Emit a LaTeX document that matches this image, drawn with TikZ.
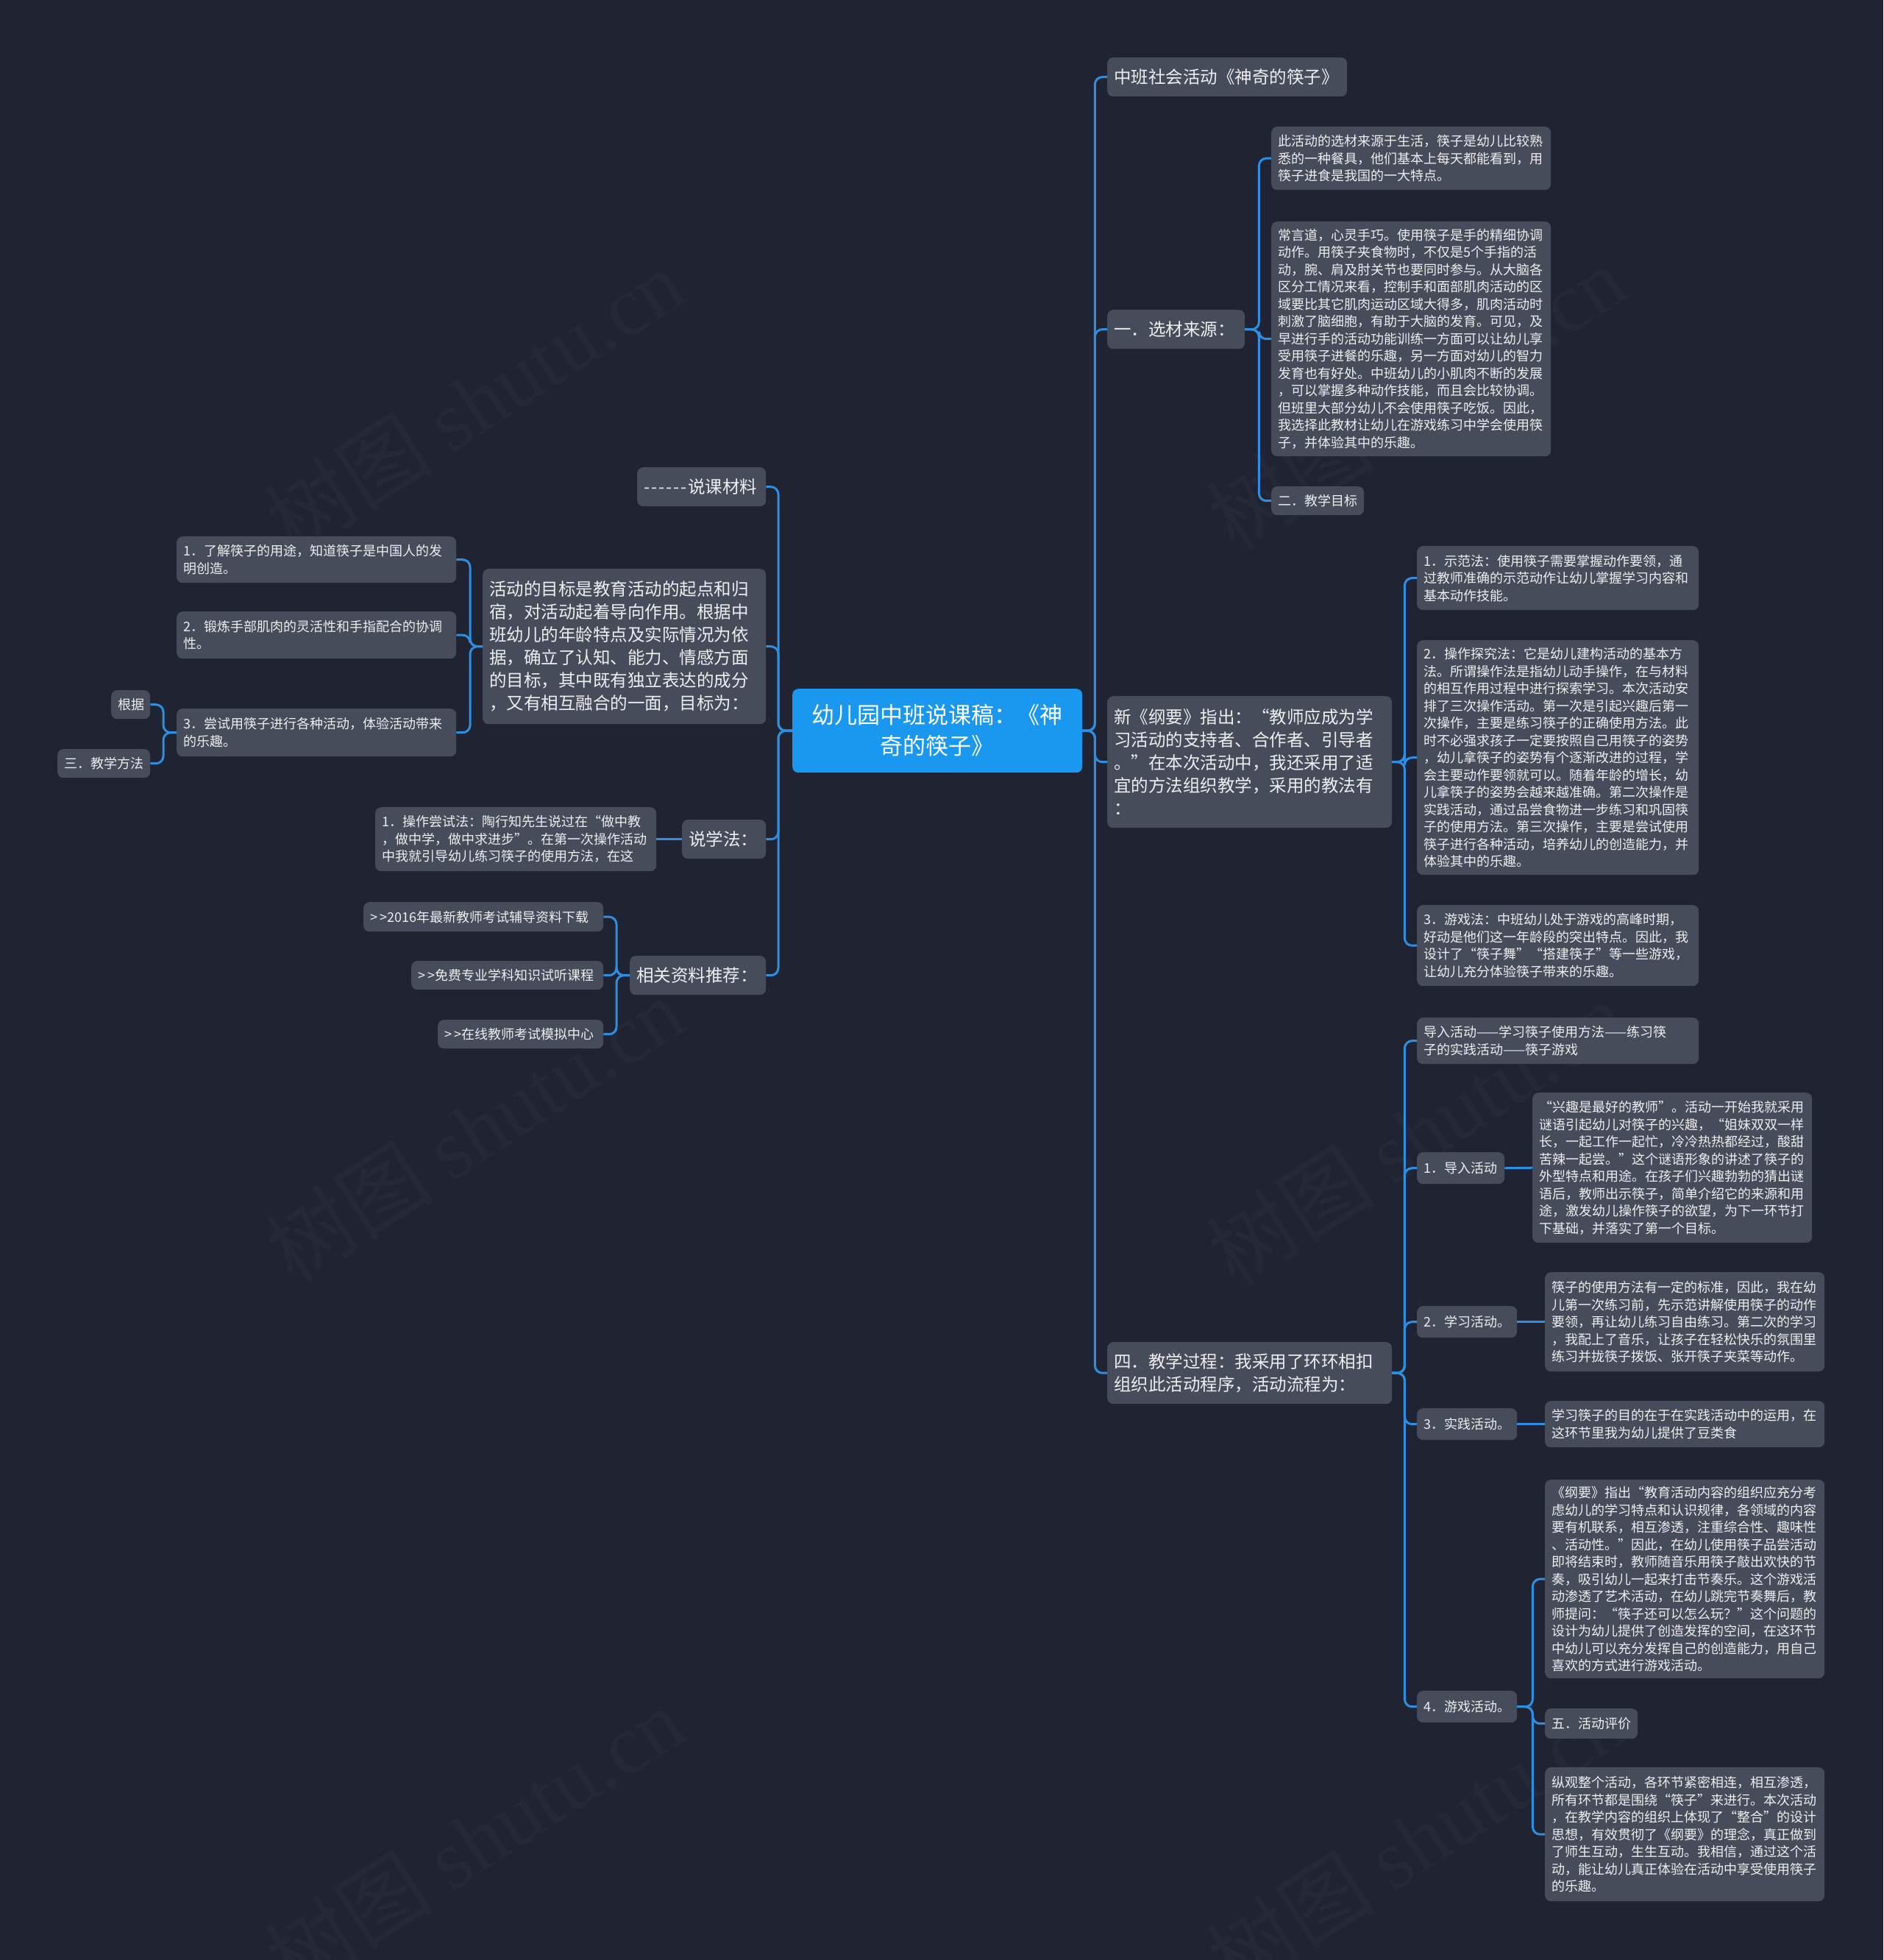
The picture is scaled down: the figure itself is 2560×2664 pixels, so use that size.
\documentclass[tikz,border=0pt]{standalone}
\usepackage{fontspec}
\newfontfamily\cjk{Noto Sans CJK SC}
\newfontfamily\wmserif{Liberation Serif}
\definecolor{bgc}{HTML}{202331}
\definecolor{nodefill}{HTML}{474C5B}
\definecolor{rootc}{HTML}{1A98F0}
\definecolor{linec}{HTML}{2C8FE2}
\definecolor{txt}{HTML}{EEEEF0}
\definecolor{wmc}{HTML}{252937}
\tikzset{
  base/.style={fill=nodefill, rounded corners=8pt, anchor=north west, inner xsep=9pt, inner ysep=0pt, text=txt, align=left},
  sm/.style={base, font=\cjk\fontsize{18}{23.5}\selectfont},
  md/.style={base, font=\cjk\fontsize{23.5}{31}\selectfont},
  rootbox/.style={base, fill=rootc, align=center, text=white, font=\cjk\fontsize{31}{42}\selectfont},
  conn/.style={draw=linec, line width=3pt, rounded corners=10pt},
  wm/.style={text=wmc, rotate=33, font=\cjk\fontsize{115}{120}\selectfont}
}
\newcommand{\wmtext}{树图 {\wmserif shutu.cn}}
\begin{document}
\begin{tikzpicture}[x=1pt,y=-1pt]
\useasboundingbox (0,0) rectangle (2560,2664);
\fill[bgc] (0,0) rectangle (2560,2664);
% watermarks
\node[wm] (w1) at (645,545) {\wmtext};
\node[wm] (w2) at (1925,540) {\wmtext};
\node[wm] (w3) at (645,1535) {\wmtext};
\node[wm] (w4) at (1925,1540) {\wmtext};
\node[wm] (w5) at (645,2500) {\wmtext};
\node[wm] (w6) at (1925,2500) {\wmtext};

% root
\node[rootbox, text width=376pt, minimum height=114pt] (root) at (1077,936) {幼儿园中班说课稿：《神\\奇的筷子》};

% right level 1
\node[md, text width=308pt, minimum height=53pt] (n1) at (1505,78) {中班社会活动《神奇的筷子》};
\node[md, text width=169pt, minimum height=53pt] (n2) at (1505,421) {一．选材来源：};
\node[md, text width=369pt, minimum height=179pt] (n3) at (1505,946) {新《纲要》指出：“教师应成为学\\习活动的支持者、合作者、引导者\\。”在本次活动中，我还采用了适\\宜的方法组织教学，采用的教法有\\：};
\node[md, text width=369pt, minimum height=84pt] (n4) at (1505,1824) {四．教学过程：我采用了环环相扣\\组织此活动程序，活动流程为：};

% n2 children
\node[sm, text width=362pt, minimum height=86pt] (a1) at (1728,172) {此活动的选材来源于生活，筷子是幼儿比较熟\\悉的一种餐具，他们基本上每天都能看到，用\\筷子进食是我国的一大特点。};
\node[sm, text width=362pt, minimum height=319pt] (a2) at (1728,301) {常言道，心灵手巧。使用筷子是手的精细协调\\动作。用筷子夹食物时，不仅是5个手指的活\\动，腕、肩及肘关节也要同时参与。从大脑各\\区分工情况来看，控制手和面部肌肉活动的区\\域要比其它肌肉运动区域大得多，肌肉活动时\\刺激了脑细胞，有助于大脑的发育。可见，及\\早进行手的活动功能训练一方面可以让幼儿享\\受用筷子进餐的乐趣，另一方面对幼儿的智力\\发育也有好处。中班幼儿的小肌肉不断的发展\\，可以掌握多种动作技能，而且会比较协调。\\但班里大部分幼儿不会使用筷子吃饭。因此，\\我选择此教材让幼儿在游戏练习中学会使用筷\\子，并体验其中的乐趣。};
\node[sm, text width=108pt, minimum height=39pt] (a3) at (1728,661) {二．教学目标};

% n3 children
\node[sm, text width=365pt, minimum height=87pt] (b1) at (1926,742) {1．示范法：使用筷子需要掌握动作要领，通\\过教师准确的示范动作让幼儿掌握学习内容和\\基本动作技能。};
\node[sm, text width=365pt, minimum height=319pt] (b2) at (1926,870) {2．操作探究法：它是幼儿建构活动的基本方\\法。所谓操作法是指幼儿动手操作，在与材料\\的相互作用过程中进行探索学习。本次活动安\\排了三次操作活动。第一次是引起兴趣后第一\\次操作，主要是练习筷子的正确使用方法。此\\时不必强求孩子一定要按照自己用筷子的姿势\\，幼儿拿筷子的姿势有个逐渐改进的过程，学\\会主要动作要领就可以。随着年龄的增长，幼\\儿拿筷子的姿势会越来越准确。第二次操作是\\实践活动，通过品尝食物进一步练习和巩固筷\\子的使用方法。第三次操作，主要是尝试使用\\筷子进行各种活动，培养幼儿的创造能力，并\\体验其中的乐趣。};
\node[sm, text width=365pt, minimum height=110pt] (b3) at (1926,1230) {3．游戏法：中班幼儿处于游戏的高峰时期，\\好动是他们这一年龄段的突出特点。因此，我\\设计了“筷子舞”“搭建筷子”等一些游戏，\\让幼儿充分体验筷子带来的乐趣。};

% n4 children
\node[sm, text width=365pt, minimum height=63pt] (c0) at (1926,1383) {导入活动——学习筷子使用方法——练习筷\\子的实践活动——筷子游戏};
\node[sm, text width=101pt, minimum height=43pt] (c1) at (1926,1566) {1．导入活动};
\node[sm, text width=118pt, minimum height=43pt] (c2) at (1926,1775) {2．学习活动。};
\node[sm, text width=118pt, minimum height=43pt] (c3) at (1926,1914) {3．实践活动。};
\node[sm, text width=118pt, minimum height=43pt] (c4) at (1926,2298) {4．游戏活动。};

\node[sm, text width=362pt, minimum height=204pt] (c1a) at (2083,1485) {“兴趣是最好的教师”。活动一开始我就采用\\谜语引起幼儿对筷子的兴趣，“姐妹双双一样\\长，一起工作一起忙，冷冷热热都经过，酸甜\\苦辣一起尝。”这个谜语形象的讲述了筷子的\\外型特点和用途。在孩子们兴趣勃勃的猜出谜\\语后，教师出示筷子，简单介绍它的来源和用\\途，激发幼儿操作筷子的欲望，为下一环节打\\下基础，并落实了第一个目标。};
\node[sm, text width=362pt, minimum height=135pt] (c2a) at (2100,1729) {筷子的使用方法有一定的标准，因此，我在幼\\儿第一次练习前，先示范讲解使用筷子的动作\\要领，再让幼儿练习自由练习。第二次的学习\\，我配上了音乐，让孩子在轻松快乐的氛围里\\练习并拢筷子拨饭、张开筷子夹菜等动作。};
\node[sm, text width=362pt, minimum height=63pt] (c3a) at (2100,1904) {学习筷子的目的在于在实践活动中的运用，在\\这环节里我为幼儿提供了豆类食};
\node[sm, text width=362pt, minimum height=270pt] (c4a) at (2100,2011) {《纲要》指出“教育活动内容的组织应充分考\\虑幼儿的学习特点和认识规律，各领域的内容\\要有机联系，相互渗透，注重综合性、趣味性\\、活动性。”因此，在幼儿使用筷子品尝活动\\即将结束时，教师随音乐用筷子敲出欢快的节\\奏，吸引幼儿一起来打击节奏乐。这个游戏活\\动渗透了艺术活动，在幼儿跳完节奏舞后，教\\师提问：“筷子还可以怎么玩？”这个问题的\\设计为幼儿提供了创造发挥的空间，在这环节\\中幼儿可以充分发挥自己的创造能力，用自己\\喜欢的方式进行游戏活动。};
\node[sm, text width=108pt, minimum height=41pt] (c4b) at (2100,2322) {五．活动评价};
\node[sm, text width=362pt, minimum height=182pt] (c4c) at (2100,2402) {纵观整个活动，各环节紧密相连，相互渗透，\\所有环节都是围绕“筷子”来进行。本次活动\\，在教学内容的组织上体现了“整合”的设计\\思想，有效贯彻了《纲要》的理念，真正做到\\了师生互动，生生互动。我相信，通过这个活\\动，能让幼儿真正体验在活动中享受使用筷子\\的乐趣。};

% left level 1
\node[md, text width=157pt, minimum height=53pt] (L1) at (866,635) {-\kern2pt-\kern2pt-\kern2pt-\kern2pt-\kern2pt-\kern1pt说课材料};
\node[md, text width=367pt, minimum height=211pt] (L2) at (656,773) {活动的目标是教育活动的起点和归\\宿，对活动起着导向作用。根据中\\班幼儿的年龄特点及实际情况为依\\据，确立了认知、能力、情感方面\\的目标，其中既有独立表达的成分\\，又有相互融合的一面，目标为：};
\node[md, text width=96pt, minimum height=53pt] (L3) at (927,1114) {说学法：};
\node[md, text width=167pt, minimum height=53pt] (L4) at (856,1299) {相关资料推荐：};

% L2 children
\node[sm, text width=362pt, minimum height=63pt] (g1) at (240,729) {1．了解筷子的用途，知道筷子是中国人的发\\明创造。};
\node[sm, text width=362pt, minimum height=64pt] (g2) at (240,831) {2．锻炼手部肌肉的灵活性和手指配合的协调\\性。};
\node[sm, text width=362pt, minimum height=65pt] (g3) at (240,963) {3．尝试用筷子进行各种活动，体验活动带来\\的乐趣。};
\node[sm, text width=35pt, minimum height=39pt] (h1) at (151,938) {根据};
\node[sm, text width=108pt, minimum height=39pt] (h2) at (78,1018) {三．教学方法};

% L3 child
\node[sm, text width=364pt, minimum height=87pt] (s1) at (510,1097) {1．操作尝试法：陶行知先生说过在“做中教\\，做中学，做中求进步”。在第一次操作活动\\中我就引导幼儿练习筷子的使用方法，在这};

% L4 children
\node[sm, text width=308pt, minimum height=40pt] (r1) at (494,1226) {>\kern3pt>2016年最新教师考试辅导资料下载};
\node[sm, text width=243pt, minimum height=39pt] (r2) at (559,1306) {>\kern3pt>免费专业学科知识试听课程};
\node[sm, text width=207pt, minimum height=39pt] (r3) at (595,1386) {>\kern3pt>在线教师考试模拟中心};

% connectors right
\foreach \t in {n1,n2,n3,n4} \draw[conn] (root.east) -- ++(17,0) |- (\t.west);
\foreach \t in {a1,a2,a3} \draw[conn] (n2.east) -- ++(19,0) |- (\t.west);
\foreach \t in {b1,b2,b3} \draw[conn] (n3.east) -- ++(17,0) |- (\t.west);
\foreach \t in {c0,c1,c2,c3,c4} \draw[conn] (n4.east) -- ++(17,0) |- (\t.west);
\draw[conn] (c1.east) -- (c1a.west);
\draw[conn] (c2.east) -- (c2a.west);
\draw[conn] (c3.east) -- (c3a.west);
\foreach \t in {c4a,c4b,c4c} \draw[conn] (c4.east) -- ++(21,0) |- (\t.west);

% connectors left
\foreach \t in {L1,L2,L3,L4} \draw[conn] (root.west) -- ++(-19,0) |- (\t.east);
\foreach \t in {g1,g2,g3} \draw[conn] (L2.west) -- ++(-17,0) |- (\t.east);
\foreach \t in {h1,h2} \draw[conn] (g3.west) -- ++(-18,0) |- (\t.east);
\draw[conn] (L3.west) -- (s1.east);
\foreach \t in {r1,r2,r3} \draw[conn] (L4.west) -- ++(-18,0) |- (\t.east);
\end{tikzpicture}
\end{document}
